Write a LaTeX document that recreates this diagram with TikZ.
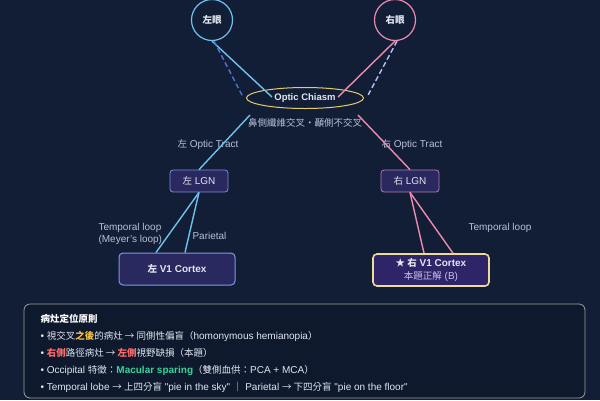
\documentclass[tikz,border=0pt]{standalone}
\usepackage{fontspec}
\setmainfont{Liberation Sans}[Ligatures=TeXOff]
\newfontfamily\cjk{Noto Sans CJK TC}[Scale=0.95]
\usepackage{xcolor,tikz}
\usetikzlibrary{shapes.geometric}
\definecolor{bgnavy}{HTML}{121D36}
\definecolor{panel}{HTML}{0E192D}
\definecolor{eyeblue}{HTML}{6EC3EE}
\definecolor{eyepink}{HTML}{EE8BB0}
\definecolor{dashblue}{HTML}{4E74D2}
\definecolor{dashpale}{HTML}{B5C4F2}
\definecolor{chiasmgold}{HTML}{E3CD6A}
\definecolor{boxfill}{HTML}{29285F}
\definecolor{goalfill}{HTML}{2E2468}
\definecolor{lgnblue}{HTML}{7D8ED6}
\definecolor{lgnpink}{HTML}{B27DB4}
\definecolor{cortexblue}{HTML}{7B9CE2}
\definecolor{goalcream}{HTML}{EEDB9C}
\definecolor{labelgray}{HTML}{B9C1D6}
\definecolor{textlight}{HTML}{E2E6F0}
\definecolor{answerlav}{HTML}{C9C3EA}
\definecolor{framegray}{HTML}{9BA29E}
\definecolor{warngold}{HTML}{F4C146}
\definecolor{alertred}{HTML}{FF6B6B}
\definecolor{sparegreen}{HTML}{37D39A}

\begin{document}
\begin{tikzpicture}[x=1pt,y=-1pt,font=\fontsize{10}{12}\selectfont,text=textlight,
  eye/.style={circle,draw=#1,line width=1.2pt,minimum size=41pt,inner sep=0pt,font=\fontsize{10}{12}\selectfont\cjk\bfseries},
  lgnbox/.style={draw=#1,fill=boxfill,rounded corners=3pt,line width=0.8pt,minimum width=58pt,minimum height=22pt},
  cortexbox/.style={draw=#1,fill=boxfill,rounded corners=4pt,line width=1pt,minimum width=116pt,minimum height=32pt,font=\fontsize{10}{13}\selectfont\bfseries},
  pathlabel/.style={text=labelgray,font=\fontsize{10}{12}\selectfont},
  fiber/.style={draw=#1,line width=1.4pt}]
\useasboundingbox (0,0) rectangle (600,400);
\fill[bgnavy] (0,0) rectangle (600,400);
% eyes and chiasm
\node[eye=eyeblue] (leye) at (212,20) {左眼};
\node[eye=eyepink] (reye) at (395,20) {右眼};
\node[ellipse,draw=chiasmgold,line width=1pt,minimum width=117pt,minimum height=21pt,inner sep=0pt,font=\fontsize{9.5}{11}\selectfont\bfseries] (chiasm) at (305,98) {Optic Chiasm};
\node[pathlabel] (crossnote) at (305,123) {\cjk 鼻側纖維交叉·顳側不交叉};
\coordinate (lnasal) at (272,97);
\coordinate (ltemporal) at (243,97);
\coordinate (rnasal) at (338,97);
\coordinate (rtemporal) at (367,97);
\coordinate (ltract) at (250,115);
\coordinate (rtract) at (358,115);
% LGN and cortex
\node[lgnbox=lgnblue] (llgn) at (199,181) {{\cjk 左} LGN};
\node[lgnbox=lgnpink] (rlgn) at (410,181) {{\cjk 右} LGN};
\node[cortexbox=cortexblue] (lv1) at (177,269) {{\cjk 左} V1 Cortex};
\node[cortexbox=goalcream,fill=goalfill,line width=1.6pt,align=center] (rv1) at (431,270) {{\cjk ★ 右} V1 Cortex\\{\mdseries\color{answerlav}{\cjk 本題正解} (B)}};
\node[pathlabel] (ltractlabel) at (208,145) {{\cjk 左} Optic Tract};
\node[pathlabel] (rtractlabel) at (412,145) {{\cjk 右} Optic Tract};
\node[pathlabel,align=left,anchor=west] (meyer) at (95,234) {Temporal loop\\(Meyer’s loop)};
\node[pathlabel,anchor=west] (parietal) at (189,236) {Parietal};
\node[pathlabel] (rtemploop) at (500,228) {Temporal loop};
% fibers
\draw[fiber=eyeblue] (leye.south) -- (lnasal);
\draw[fiber=dashblue,dash pattern=on 5pt off 3pt] ([xshift=2pt]leye.south) -- (ltemporal);
\draw[fiber=eyepink] (reye.south) -- (rnasal);
\draw[fiber=dashpale,dash pattern=on 5pt off 3pt] ([xshift=2pt]reye.south) -- (rtemporal);
\draw[fiber=eyeblue] (ltract) -- (llgn.north);
\draw[fiber=eyepink] (rtract) -- (rlgn.north);
\draw[fiber=eyeblue] (llgn.south) -- ([xshift=-21pt]lv1.north);
\draw[fiber=eyeblue] (llgn.south) -- ([xshift=8pt]lv1.north);
\draw[fiber=eyepink] (rlgn.south) -- ([xshift=-7pt]rv1.north);
\draw[fiber=eyepink] (rlgn.south) -- ([xshift=22pt]rv1.north);
% rules panel
\node[draw=framegray,fill=panel,rounded corners=6pt,line width=0.8pt,minimum width=561pt,minimum height=94pt] (rules) at (304.5,351) {};
\node[anchor=west,font=\fontsize{10}{12}\selectfont\cjk\bfseries,text=white] (rulestitle) at (37,319) {病灶定位原則};
\node[anchor=west] (rule1) at (37,336) {• {\cjk 視交叉{\color{warngold}\bfseries 之後}的病灶 → 同側性偏盲（}homonymous hemianopia{\cjk ）}};
\node[anchor=west] (rule2) at (37,353) {• {\cjk{\color{alertred}\bfseries 右側}路徑病灶 → {\color{alertred}\bfseries 左側}視野缺損（本題）}};
\node[anchor=west] (rule3) at (37,370) {• Occipital {\cjk 特徵：}{\color{sparegreen}\bfseries Macular sparing}{\cjk （雙側血供：}PCA + MCA{\cjk ）}};
\node[anchor=west] (rule4) at (37,387) {• Temporal lobe {\cjk → 上四分盲} "pie in the sky" {\cjk ｜} Parietal {\cjk → 下四分盲} "pie on the floor"};
\end{tikzpicture}
\end{document}
